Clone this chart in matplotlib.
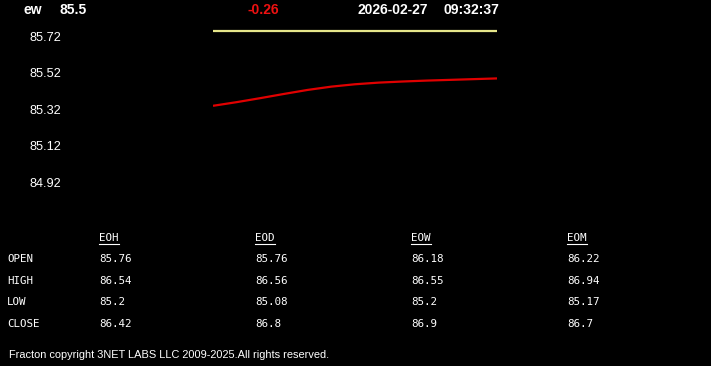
#!/usr/bin/env python3
"""Intraday ticker panel: price curve vs. open level with a period summary table."""
import matplotlib
matplotlib.use("Agg")
import matplotlib.pyplot as plt
from matplotlib.lines import Line2D

symbol = "ew"
last_price = "85.5"
change = "-0.26"
date_str = "2026-02-27"
time_str = "09:32:37"

# price samples, open level as flat reference
price = [85.34, 85.36, 85.382, 85.405, 85.427, 85.445, 85.458, 85.467,
         85.473, 85.478, 85.482, 85.486, 85.49]
open_level = 85.75
yticks = [84.92, 85.12, 85.32, 85.52, 85.72]

periods = ["EOH", "EOD", "EOW", "EOM"]
row_names = ["OPEN", "HIGH", "LOW", "CLOSE"]
opens = ["85.76", "85.76", "86.18", "86.22"]
highs = ["86.54", "86.56", "86.55", "86.94"]
lows = ["85.2", "85.08", "85.2", "85.17"]
closes = ["86.42", "86.8", "86.9", "86.7"]

footer = "Fracton copyright 3NET LABS LLC 2009-2025.All rights reserved."

W, H = 711, 366
fig = plt.figure(figsize=(W / 100, H / 100), dpi=100, facecolor="black")

# axes box in pixels: x 213..497, y 20..200 (from top)
ax = fig.add_axes([213 / W, 1 - 200 / H, (497 - 213) / W, 180 / H])
ax.set_facecolor("black")
x = list(range(len(price)))
ax.plot([x[0], x[-1]], [open_level, open_level], color="#e6e68a", lw=1.6,
        solid_capstyle="butt")
ax.plot(x, price, color="#e00000", lw=1.6, solid_capstyle="butt")
ax.set_xlim(x[0], x[-1])
ax.set_ylim(84.824, 85.810)
ax.set_yticks(yticks)
ax.set_yticklabels([f"{v:.2f}" for v in yticks], color="white",
                   fontsize=9.2, family="Liberation Sans")
ax.tick_params(axis="y", length=0, pad=152 * 0.72)
ax.set_xticks([])
for s in ax.spines.values():
    s.set_visible(False)

def px(xp, yp):
    return xp / W, 1 - yp / H

hdr = dict(color="white", fontsize=10, fontweight="bold",
           family="Liberation Sans", va="center")
fig.text(*px(23, 9.5), symbol, **hdr)
fig.text(*px(60, 9.5), last_price, **hdr)
fig.text(*px(263, 9.5), change, ha="center", **{**hdr, "color": "#ee1111"})
fig.text(*px(357, 9.5), date_str, **hdr)
fig.text(*px(443, 9.5), time_str, **hdr)

mono = dict(color="white", fontsize=7.8, family="DejaVu Sans Mono", va="center")
col_x = [99, 255, 411, 567]
row_y = [259, 281, 302, 324]
headers = []
for cx, name in zip(col_x, periods):
    headers.append(fig.text(*px(cx, 238), name, **mono))
for ry, name in zip(row_y, row_names):
    fig.text(*px(7, ry), name, **mono)
for ry, vals in zip(row_y, [opens, highs, lows, closes]):
    for cx, v in zip(col_x, vals):
        fig.text(*px(cx, ry), v, **mono)

fig.text(*px(9, 355), footer, color="white", fontsize=7.9,
         family="Liberation Sans", va="center")

# underline the period headers
fig.canvas.draw()
r = fig.canvas.get_renderer()
for t in headers:
    bb = t.get_window_extent(r)
    yline = (bb.y0 - 1) / H
    fig.add_artist(Line2D([bb.x0 / W, bb.x1 / W], [yline, yline],
                          color="white", lw=0.8))

fig.savefig("out.png", dpi=100, facecolor="black")
